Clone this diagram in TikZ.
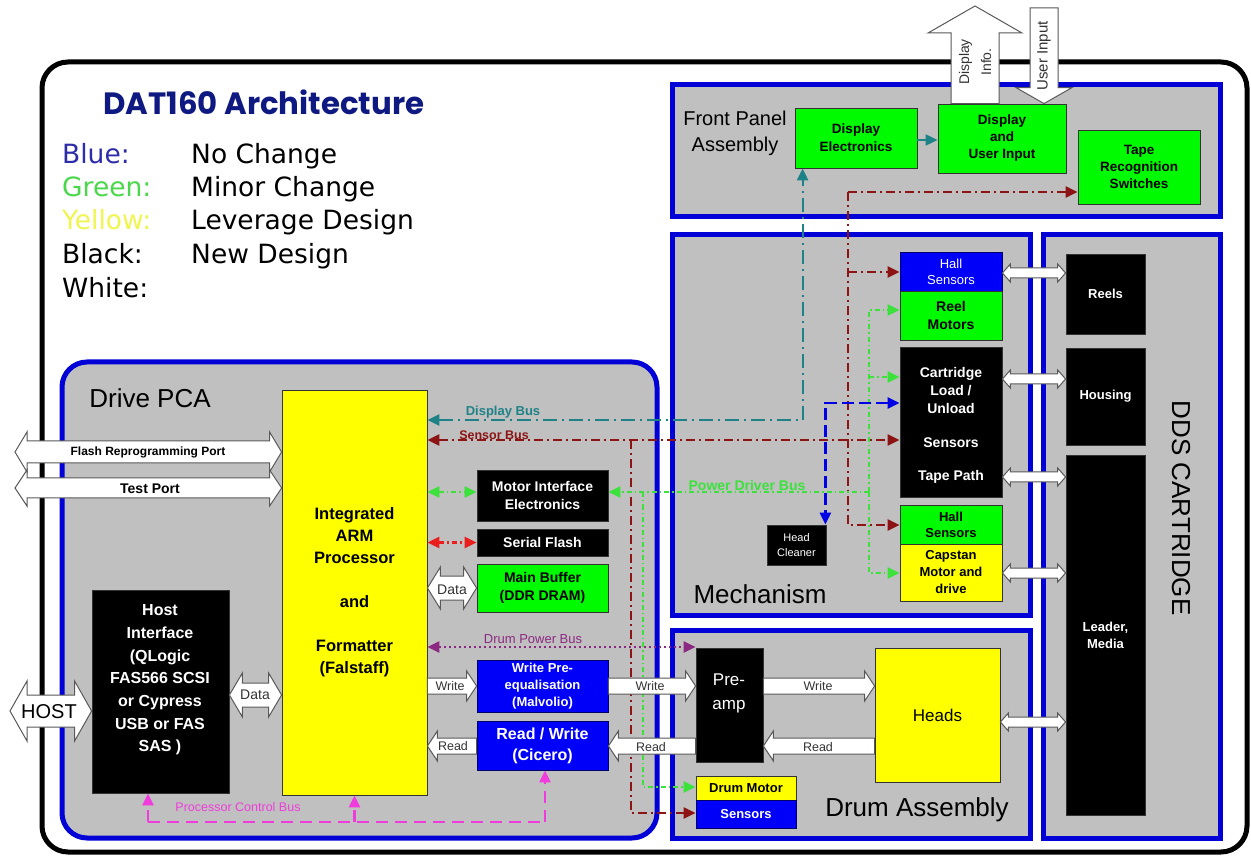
\documentclass[tikz,border=0pt]{standalone}
\usepackage{fontspec}
\setmainfont{Liberation Sans}
\newfontfamily\legfont{DejaVu Sans}
\newfontfamily\titfont{Poppins}
\usetikzlibrary{arrows.meta,calc}
\definecolor{pgray}{RGB}{192,192,192}
\definecolor{cblue}{RGB}{0,0,215}
\definecolor{bfill}{RGB}{0,0,250}
\definecolor{gfill}{RGB}{0,250,0}
\definecolor{yfill}{RGB}{255,255,0}
\definecolor{tealb}{RGB}{30,130,135}
\definecolor{dred}{RGB}{140,20,20}
\definecolor{pgreen}{RGB}{60,225,60}
\definecolor{bred}{RGB}{235,30,30}
\definecolor{dpurp}{RGB}{140,40,130}
\definecolor{magb}{RGB}{240,60,220}
\definecolor{navyt}{RGB}{15,25,130}
\definecolor{lgblue}{RGB}{45,45,170}
\definecolor{lggreen}{RGB}{75,215,75}
\definecolor{lgyellow}{RGB}{240,245,80}
\newcommand\fs[2]{\fontsize{#1}{#2}\selectfont}
\newcommand\bx[7]{\node[#6,minimum width={#4pt-#2pt},minimum height={#5pt-#3pt}] (#1) at ({(#2+#4)/2},{(#3+#5)/2}) {#7};}
\newcommand\fatR[5]{\draw[fat] let \p1=#1,\p2=#2 in ({\x1},{\y1+#3}) -- ({\x2-#5},{\y1+#3}) -- ({\x2-#5},{\y1+#4}) -- ({\x2},{\y1}) -- ({\x2-#5},{\y1-#4}) -- ({\x2-#5},{\y1-#3}) -- ({\x1},{\y1-#3}) -- cycle;}
\newcommand\fatL[5]{\draw[fat] let \p1=#1,\p2=#2 in ({\x2},{\y1+#3}) -- ({\x1+#5},{\y1+#3}) -- ({\x1+#5},{\y1+#4}) -- ({\x1},{\y1}) -- ({\x1+#5},{\y1-#4}) -- ({\x1+#5},{\y1-#3}) -- ({\x2},{\y1-#3}) -- cycle;}
\newcommand\fatLR[5]{\draw[fat] let \p1=#1,\p2=#2 in ({\x1+#5},{\y1+#3}) -- ({\x2-#5},{\y1+#3}) -- ({\x2-#5},{\y1+#4}) -- ({\x2},{\y1}) -- ({\x2-#5},{\y1-#4}) -- ({\x2-#5},{\y1-#3}) -- ({\x1+#5},{\y1-#3}) -- ({\x1+#5},{\y1-#4}) -- ({\x1},{\y1}) -- ({\x1+#5},{\y1+#4}) -- cycle;}
\begin{document}
\begin{tikzpicture}[x=1pt,y=-1pt,
  cont/.style={draw=cblue,line width=5pt,fill=pgray,inner sep=0pt},
  blk/.style={draw=black!80,line width=0.8pt,fill=black,text=white,font=\bfseries\fs{14}{17},align=center,inner sep=0pt},
  grn/.style={blk,fill=gfill,text=black},
  yel/.style={blk,fill=yfill,text=black},
  blu/.style={blk,fill=bfill,text=white,draw=blue!40!black},
  txt/.style={inner sep=0pt,align=center},
  fat/.style={draw=black!65,line width=1pt,fill=white},
  alab/.style={txt,font=\fs{12.5}{14},text=black!80},
  tri/.tip={Triangle[length=12pt,width=11pt]},
  bus/.style={line width=2.2pt},
  dispb/.style={bus,draw=tealb,dash pattern=on 14pt off 5pt on 2pt off 5pt},
  sensb/.style={bus,draw=dred,dash pattern=on 9pt off 4pt on 2pt off 4pt},
  powb/.style={bus,draw=pgreen,dash pattern=on 5pt off 3pt on 1.5pt off 3pt},
  blueb/.style={bus,line width=2.5pt,draw=blue!90!black,dash pattern=on 12pt off 5pt},
  drumb/.style={bus,line width=2.5pt,draw=dpurp,dash pattern=on 2pt off 3pt},
  procb/.style={bus,line width=2.5pt,draw=magb,dash pattern=on 12pt off 7pt},
  redb/.style={bus,draw=bred,dash pattern=on 5pt off 3pt on 2pt off 3pt}]
\useasboundingbox (0,0) rectangle (1251,858);
\fill[white] (0,0) rectangle (1251,858);
\bx{outer}{42}{62}{1247}{852}{draw=black,line width=5pt,rounded corners=26pt,fill=white}{}
% title and legend
\node[anchor=base west,inner sep=0pt,font=\titfont\bfseries\fs{30.8}{34},text=navyt] (title) at (103,115) {DAT160 Architecture};
\begin{scope}[every node/.style={anchor=base west,inner sep=0pt,font=\legfont\fs{26.5}{30}}]
\node[text=lgblue] (l1) at (62,164) {Blue:};
\node[text=lggreen] (l2) at (62,197) {Green:};
\node[text=lgyellow] (l3) at (62,230) {Yellow:};
\node (l4) at (62,264) {Black:};
\node (l5) at (62,298) {White:};
\node (d1) at (191,164) {No Change};
\node (d2) at (191,197) {Minor Change};
\node (d3) at (191,230) {Leverage Design};
\node (d4) at (191,264) {New Design};
\end{scope}
% containers
\bx{fp}{672}{85}{1220}{217}{cont}{}
\bx{mech}{672}{235}{1030}{615}{cont}{}
\bx{dds}{1043}{235}{1220}{838}{cont}{}
\bx{drum}{672}{630}{1030}{838}{cont}{}
\bx{pca}{62}{362}{657}{838}{cont,rounded corners=25pt}{}
\node[txt,font=\fs{20}{26}] (fpl) at (735,133) {Front Panel\\Assembly};
\node[txt,font=\fs{26}{30}] (mechl) at (760,594) {Mechanism};
\node[txt,font=\fs{26}{30}] (druml) at (917,810) {Drum Assembly};
\node[txt,font=\fs{26}{30}] (pcal) at (150,398) {Drive PCA};
\node[txt,font=\fs{26}{30},rotate=-90] (ddsl) at (1181,508) {DDS CARTRIDGE};
% coordinates for bus junctions
\coordinate (sbtop) at (848,192);
\coordinate (sbj) at (848,440);
\coordinate (sbd) at (631,440);
\coordinate (pbj) at (869,492);
\coordinate (pbd) at (643,492);
\coordinate (pcl) at (148,822);
\coordinate (pcr) at (545,822);
% nodes (boxes)
\bx{de}{795}{108}{917}{168}{grn,font=\bfseries\fs{13.5}{18}}{Display\\Electronics}
\bx{dui}{938}{104}{1066}{173}{grn,font=\bfseries\fs{13.5}{17}}{Display\\and\\User Input}
\bx{trs}{1078}{130}{1200}{204}{grn,font=\bfseries\fs{13.5}{17}}{Tape\\Recognition\\Switches}
\bx{hall1}{900}{252}{1002}{291}{blu,font=\fs{13}{16}}{Hall\\Sensors}
\bx{reel}{900}{291}{1002}{340}{grn,font=\bfseries\fs{14}{18}}{Reel\\Motors}
\bx{cart}{900}{347}{1002}{497}{blk}{}
\bx{hall2}{900}{505}{1002}{544}{grn,font=\bfseries\fs{13}{16}}{Hall\\Sensors}
\bx{cap}{900}{544}{1002}{601}{yel,font=\bfseries\fs{13}{17}}{Capstan\\Motor and\\drive}
\bx{hc}{767}{525}{826}{565}{blk,font=\fs{11}{15}}{Head\\Cleaner}
\bx{reels}{1066}{254}{1145}{334}{blk,font=\bfseries\fs{13}{16}}{Reels}
\bx{hous}{1066}{348}{1145}{445}{blk,font=\bfseries\fs{13}{16}}{Housing}
\bx{lead}{1066}{455}{1145}{815}{blk,font=\bfseries\fs{13}{17}}{Leader,\\Media}
\bx{pre}{696}{648}{763}{762}{blk}{}
\bx{heads}{875}{648}{1000}{782}{yel,font=\fs{17}{20}}{Heads}
\bx{dmot}{696}{776}{796}{800}{yel,font=\bfseries\fs{13}{16}}{Drum Motor}
\bx{dsens}{696}{800}{796}{828}{blu,font=\bfseries\fs{13}{16}}{Sensors}
\bx{arm}{282}{390}{427}{795}{yel,font=\bfseries\fs{16.5}{22}}{Integrated\\ARM\\Processor\\\mbox{}\\and\\\mbox{}\\Formatter\\(Falstaff)}
\bx{mie}{477}{470}{608}{521}{blk,font=\bfseries\fs{14}{18}}{Motor Interface\\Electronics}
\bx{sf}{477}{529}{608}{556}{blk,font=\bfseries\fs{14}{17}}{Serial Flash}
\bx{mb}{477}{564}{608}{612}{grn,font=\bfseries\fs{14}{18}}{Main Buffer\\(DDR DRAM)}
\bx{wpe}{477}{660}{608}{712}{blu,font=\bfseries\fs{13}{17}}{Write Pre-\\equalisation\\(Malvolio)}
\bx{rw}{477}{721}{608}{770}{blu,font=\bfseries\fs{16}{21}}{Read / Write\\(Cicero)}
\bx{hif}{92}{590}{229}{793}{blk}{}
% texts inside boxes
\node[txt,text=white,font=\bfseries\fs{14}{18}] (cartt) at (951,390) {Cartridge\\Load /\\Unload};
\node[txt,text=white,font=\bfseries\fs{14}{17}] (senst) at (951,443) {Sensors};
\node[txt,text=white,font=\bfseries\fs{14}{17}] (tpt) at (951,477) {Tape Path};
\node[txt,text=white,font=\fs{17}{24}] (pret) at (729,693) {Pre-\\amp};
\node[txt,text=white,font=\bfseries\fs{16}{22.7}] (hift) at (160,680) {Host\\Interface\\(QLogic\\FAS566 SCSI\\or Cypress\\USB or FAS\\SAS )};
% buses
\draw[dispb,{tri}-{tri}] (arm.east |- 0,420) -| ([xshift=8pt]de.south west);
\draw[line width=2pt,draw=tealb,-{tri}] (de.east |- 0,140) -- (dui.west |- 0,140);
\draw[sensb,{tri}-{tri}] (arm.east |- sbj) -- (cart.west |- sbj);
\draw[sensb,-{tri}] (sbtop) -- (trs.west |- sbtop);
\draw[sensb,-{tri}] (sbtop) |- (hall2.west |- 0,525);
\draw[sensb,-{tri}] (848,272) -- (hall1.west |- 0,272);
\draw[sensb,-{tri}] (sbd) |- (dsens.west |- 0,813);
\draw[powb,-{tri}] (pbj) -- (mie.east |- pbj);
\draw[powb,-{tri}] (pbj) |- (reel.west |- 0,310);
\draw[powb,-{tri}] (869,377) -- (cart.west |- 0,377);
\draw[powb,-{tri}] (pbj) |- (cap.west |- 0,573);
\draw[powb,-{tri}] (pbd) |- (dmot.west |- 0,787);
\draw[powb,{tri}-{tri}] (arm.east |- 0,492) -- (mie.west |- 0,492);
\draw[redb,{tri}-{tri}] (arm.east |- sf.west) -- (sf.west);
\draw[blueb,{tri}-{tri}] (cart.west |- 0,403) -| ([xshift=-1pt]hc.north east);
\draw[drumb,{tri}-{tri}] (arm.east |- 0,647) -- (pre.west |- 0,647);
\draw[procb] (pcl) -- (pcr);
\draw[procb,-{tri}] (pcl) -- (hif.south -| pcl);
\draw[procb,-{tri}] (arm.south |- pcl) -- (arm.south);
\draw[procb,-{tri}] (pcr) -- (rw.south -| pcr);
% bus labels
\node[txt,font=\bfseries\fs{13}{15},text=tealb] (dbl) at (503,412) {Display Bus};
\node[txt,font=\bfseries\fs{12.5}{15},text=dred] (sbl) at (494,435) {Sensor Bus};
\node[txt,font=\bfseries\fs{14}{15},text=pgreen] (pbl) at (747,485) {Power Driver Bus};
\node[txt,font=\fs{13}{15},text=dpurp] (dpl) at (533,639) {Drum Power Bus};
\node[txt,font=\fs{12.5}{15},text=magb] (pcbl) at (238,807) {Processor Control Bus};
% fat arrows
\coordinate (flL) at (15,452);
\coordinate (tpL) at (15,488);
\coordinate (hoL) at (10,711);
\fatLR{(flL)}{(arm.west |- flL)}{11pt}{20pt}{12pt}
\fatLR{(tpL)}{(arm.west |- tpL)}{10pt}{18pt}{12pt}
\node[txt,font=\bfseries\fs{12}{14}] (fll) at (148,452) {Flash Reprogramming Port};
\node[txt,font=\bfseries\fs{14}{16}] (tpl) at (150,489) {Test Port};
\fatLR{(hoL)}{(hif.west |- hoL)}{16pt}{30pt}{17pt}
\node[txt,font=\fs{20}{22}] (hol) at (49,712) {HOST};
\fatLR{(hif.east |- 0,695)}{(arm.west |- 0,695)}{12pt}{22pt}{13pt}
\node[txt,font=\fs{14}{16},text=black!80] (dal1) at (255,695) {Data};
\fatLR{(arm.east |- mb.west)}{(mb.west)}{12pt}{21pt}{13pt}
\node[txt,font=\fs{14}{16},text=black!80] (dal2) at (452,590) {Data};
\fatR{(arm.east |- 0,686)}{(wpe.west |- 0,686)}{8pt}{15pt}{10pt}
\fatR{(wpe.east |- 0,686)}{(pre.west |- 0,686)}{8pt}{15pt}{10pt}
\fatR{(pre.east |- 0,686)}{(heads.west |- 0,686)}{8pt}{15pt}{10pt}
\fatL{(arm.east |- 0,746)}{(rw.west |- 0,746)}{8pt}{15pt}{10pt}
\fatL{(rw.east |- 0,746)}{(pre.west |- 0,746)}{8pt}{15pt}{10pt}
\fatL{(pre.east |- 0,746)}{(heads.west |- 0,746)}{8pt}{15pt}{10pt}
\node[alab] (w1) at (450,686) {Write};
\node[alab] (w2) at (650,686) {Write};
\node[alab] (w3) at (818,686) {Write};
\node[alab] (r1) at (453,746) {Read};
\node[alab] (r2) at (651,747) {Read};
\node[alab] (r3) at (818,747) {Read};
% cartridge links
\fatLR{(hall1.east |- 0,273)}{(reels.west |- 0,273)}{5pt}{9pt}{8pt}
\fatLR{(cart.east |- 0,379)}{(hous.west |- 0,379)}{5pt}{9pt}{8pt}
\fatLR{(cart.east |- 0,477)}{(lead.west |- 0,477)}{5pt}{9pt}{8pt}
\fatLR{(cap.east |- 0,573)}{(lead.west |- 0,573)}{5pt}{9pt}{8pt}
\fatLR{(heads.east |- 0,722)}{(lead.west |- 0,722)}{5pt}{9pt}{8pt}
% display info / user input
\coordinate (diTop) at (975,6);
\coordinate (uiTop) at (1044,8);
\draw[fat] let \p1=(dui.north -| diTop), \p2=(diTop) in
  ({\x1-24pt},{\y1}) -- ({\x1-24pt},{\y2-27pt}) -- ({\x1-47pt},{\y2-27pt}) -- (\x2,\y2) -- ({\x1+47pt},{\y2-27pt}) -- ({\x1+24pt},{\y2-27pt}) -- ({\x1+24pt},{\y1}) -- cycle;
\draw[fat] let \p1=(dui.north -| uiTop), \p2=(uiTop) in
  ({\x2-14pt},{\y2}) -- ({\x2-14pt},{\y1+16pt}) -- ({\x2-28pt},{\y1+16pt}) -- (\x1,\y1) -- ({\x2+28pt},{\y1+16pt}) -- ({\x2+14pt},{\y1+16pt}) -- ({\x2+14pt},{\y2}) -- cycle;
\node[txt,font=\fs{14}{22},text=black!80,rotate=90] (dil) at (975,62) {Display\\Info.};
\node[txt,font=\fs{15}{17},text=black!80,rotate=90] (uil) at (1044,56) {User Input};
\end{tikzpicture}
\end{document}
